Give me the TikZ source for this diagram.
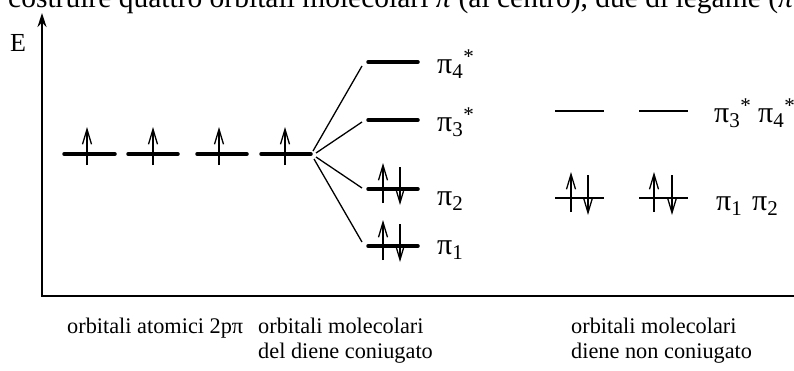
\documentclass[tikz,border=0pt]{standalone}
\usepackage{fontspec}
\setmainfont{Liberation Serif}
\usetikzlibrary{arrows.meta}
\begin{document}
\begin{tikzpicture}[x=1pt,y=-1pt,
  lvl/.style={line width=3.5pt, line cap=round},
  thinlvl/.style={line width=1.5pt},
  ax/.style={line width=1.8pt},
  eup/.style={line width=1.3pt, -{Straight Barb[length=15pt,width=9pt]}},
  fan/.style={line width=1.3pt},
  lab/.style={font=\fontsize{30}{32}\selectfont, inner sep=0pt, anchor=base west},
  txt/.style={font=\fontsize{22.3}{25}\selectfont, inner sep=0pt, anchor=base west, align=left},
  ]
\useasboundingbox (0,0) rectangle (794,370);
% top cut text
\node[txt, font=\fontsize{29.5}{31}\selectfont] (top) at (8,7) {costruire quattro orbitali molecolari \textit{π} (al centro), due di legame (\textit{π}};
% axes
\coordinate (ytop) at (42,13);
\coordinate (O) at (42,296);
\coordinate (xend) at (794,296);
\draw[ax, {Stealth[length=14pt,width=9pt]}-] (ytop) -- (O) -- (xend);
\node[txt, anchor=center, font=\fontsize{26}{28}\selectfont] (E) at (18,43) {E};
% atomic orbitals
\foreach \i/\xa/\xb/\xe in {1/64/115/87, 2/128/178/153, 3/197/247/219, 4/261/311/285}{
  \coordinate (a\i l) at (\xa,154);
  \coordinate (a\i r) at (\xb,154);
  \draw[lvl] (a\i l) -- (a\i r);
  \draw[eup] (\xe,165) -- (\xe,127);
}
% fan
\coordinate (s4) at (313,151);
\coordinate (s3) at (316,153);
\coordinate (s2) at (316,157);
\coordinate (s1) at (314,159);
\coordinate (f4) at (362,66);
\coordinate (f3) at (362,122);
\coordinate (f2) at (362,188);
\coordinate (f1) at (362,242);
\foreach \k in {1,2,3,4}{ \draw[fan] (s\k) -- (f\k); }
% molecular orbitals conjugated
\foreach \k/\y in {4/62, 3/120, 2/189, 1/246}{
  \coordinate (m\k l) at (368,\y);
  \coordinate (m\k r) at (418,\y);
  \draw[lvl] (m\k l) -- (m\k r);
}
\draw[eup] (383,203) -- (383,163);
\draw[eup] (400,167) -- (400,205);
\draw[eup] (383,260) -- (383,220);
\draw[eup] (400,224) -- (400,262);
\node[lab] (p4) at (437,73) {π\textsubscript{4}\textsuperscript{*}};
\node[lab] (p3) at (437,131) {π\textsubscript{3}\textsuperscript{*}};
\node[lab] (p2) at (437,205) {π\textsubscript{2}};
\node[lab] (p1) at (437,254) {π\textsubscript{1}};
% non conjugated
\foreach \k/\xa/\xb in {1/555/604, 2/639/688}{
  \coordinate (n\k l) at (\xa,111);
  \coordinate (n\k r) at (\xb,111);
  \draw[thinlvl] (n\k l) -- (n\k r);
  \coordinate (b\k l) at (\xa,198);
  \coordinate (b\k r) at (\xb,198);
  \draw[thinlvl] (b\k l) -- (b\k r);
}
\draw[eup] (571,212) -- (571,172);
\draw[eup] (588,175) -- (588,215);
\draw[eup] (654,212) -- (654,172);
\draw[eup] (672,175) -- (672,215);
\node[lab] (q3) at (714,122) {π\textsubscript{3}\textsuperscript{*}};
\node[lab] (q4) at (758,122) {π\textsubscript{4}\textsuperscript{*}};
\node[lab] (q1) at (716,210) {π\textsubscript{1}};
\node[lab] (q2) at (752,210) {π\textsubscript{2}};
% bottom labels
\node[txt] (l1) at (67,333) {orbitali atomici 2pπ};
\node[txt] (l2a) at (258,333) {orbitali molecolari};
\node[txt] (l2b) at (258,358) {del diene coniugato};
\node[txt] (l3a) at (571,333) {orbitali molecolari};
\node[txt] (l3b) at (571,358) {diene non coniugato};
\end{tikzpicture}
\end{document}
